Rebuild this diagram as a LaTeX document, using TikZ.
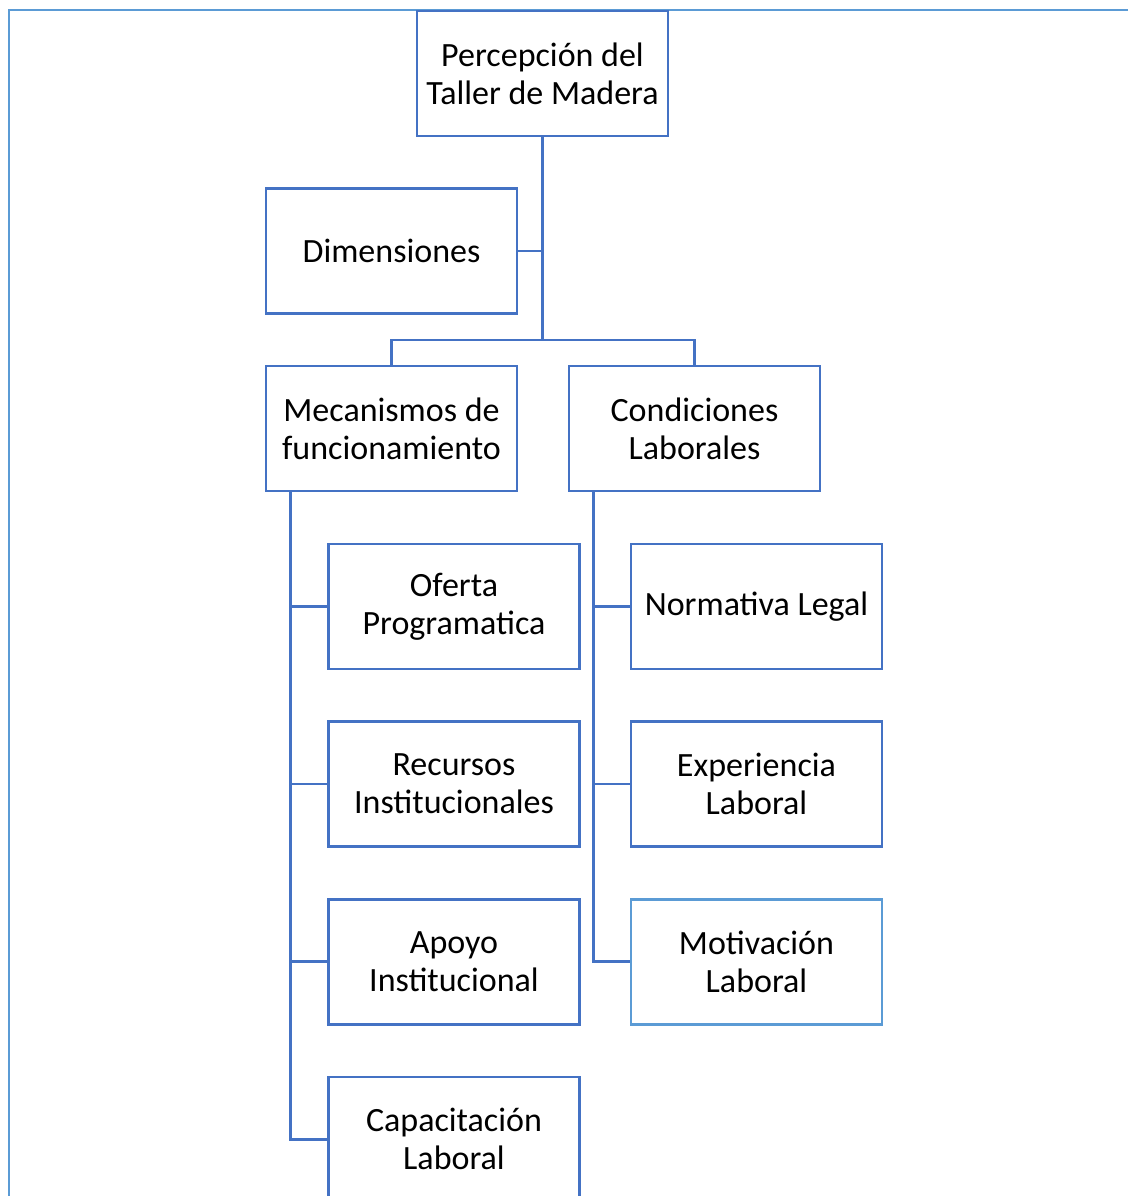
\documentclass[tikz,border=0pt]{standalone}
\usepackage{fontspec}
\setmainfont{Carlito}
\usetikzlibrary{positioning,calc}

\definecolor{boxblue}{HTML}{4472C4}
\definecolor{lightblue}{HTML}{5B9BD5}

\begin{document}
\begin{tikzpicture}[
    x=0.5pt, y=-0.5pt,
    font=\fontsize{17pt}{19pt}\selectfont,
    node distance=25pt and 25pt,
    box/.style={
        rectangle, draw=boxblue, line width=1.3pt,
        minimum width=125.5pt, minimum height=62.5pt,
        align=center, inner sep=2pt
    },
    lbox/.style={box, draw=lightblue},
    link/.style={draw=boxblue, line width=1.3pt}
]
\useasboundingbox (0,0) rectangle (1128,1196);

% Outer frame
\draw[lightblue, line width=0.8pt] (1128,10) -- (9,10) -- (9,1196);

% Top levels
\node[box] (percep) at (542.5,73.5) {Percepción del\\Taller de Madera};
\node[box] (dimen) at (391.5,251) {Dimensiones};
\node[box] (mecan) at (391.5,428.5) {Mecanismos de\\funcionamiento};
\node[box] (condic) at (694.5,428.5) {Condiciones\\Laborales};

% Left branch
\node[box] (oferta) at (454,606.5) {Oferta\\Programatica};
\node[box, below=of oferta] (recursos) {Recursos\\Institucionales};
\node[box, below=of recursos] (apoyo) {Apoyo\\Institucional};
\node[box, below=of apoyo] (capac) {Capacitación\\Laboral};

% Right branch
\node[box] (normat) at (756.5,606.5) {Normativa Legal};
\node[box, below=of normat] (experi) {Experiencia\\Laboral};
\node[lbox, below=of experi] (motiv) {Motivación\\Laboral};

% Connectors
\coordinate (bar) at (542.5,340);
\coordinate (mtrunk) at ($(mecan.south west)+(26,0)$);
\coordinate (ctrunk) at ($(condic.south west)+(26,0)$);

\draw[link] (percep.south) -- (bar);
\draw[link] (dimen.east) -- (dimen.east -| bar);
\draw[link] (mecan.north) |- (bar) -| (condic.north);

\foreach \n in {oferta,recursos,apoyo,capac}
    \draw[link] (mtrunk) |- (\n.west);
\foreach \n in {normat,experi,motiv}
    \draw[link] (ctrunk) |- (\n.west);

\end{tikzpicture}
\end{document}
